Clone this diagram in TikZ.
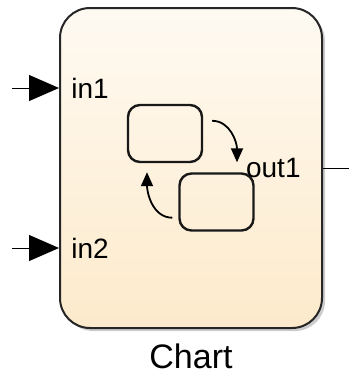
\documentclass[tikz,border=0pt]{standalone}
\usepackage{fontspec}
\setmainfont{Liberation Sans}
\usepackage{xcolor}
\usetikzlibrary{arrows.meta,shadows,positioning}

\definecolor{chartTop}{HTML}{FEFAF2}
\definecolor{chartBottom}{HTML}{FDEACB}

\begin{document}
\begin{tikzpicture}[
    x=0.5pt,y=-0.5pt,
    chartblock/.style={draw=black!85,line width=1pt,rounded corners=15pt,
        minimum width=131pt,minimum height=160pt,inner sep=0pt,
        top color=chartTop,bottom color=chartBottom,
        drop shadow={shadow xshift=1.5pt,shadow yshift=-1.5pt,opacity=0.4}},
    statebox/.style={draw=black!90,line width=1.2pt,rounded corners=6pt,
        minimum width=37pt,minimum height=28.5pt,inner sep=0pt},
    inport/.style={line width=0.5pt,-{Triangle[length=15pt,width=13pt]}},
    outport/.style={line width=0.5pt},
    trans/.style={line width=0.9pt,-{Triangle[length=7pt,width=6pt]}},
    portlabel/.style={font=\fontsize{14}{14}\selectfont,inner sep=0pt},
    every node/.style={font=\fontsize{17}{17}\selectfont}
]
    \useasboundingbox (0,0) rectangle (349,381);

    % The chart block and its two inner states.
    \node[chartblock] (chart) at (191,168) {};
    \node[statebox] (s1) at (165,133.5) {};
    \node[statebox] (s2) at (216.5,202) {};

    % Ports on the block edges.
    \coordinate (in1src) at (12,88);
    \coordinate (in2src) at (12,248);
    \coordinate (out1dst) at (349,168);
    \draw[inport] (in1src) -- (chart.west |- in1src);
    \draw[inport] (in2src) -- (chart.west |- in2src);
    \draw[outport] (chart.east |- out1dst) -- (out1dst);

    \node[portlabel,anchor=west] (in1lbl) at (71,88) {in1};
    \node[portlabel,anchor=west] (in2lbl) at (71,248) {in2};
    \node[portlabel,anchor=east] (out1lbl) at (301,168) {out1};

    % Transitions between the states.
    \draw[trans] ([shift={(9,17)}]s1.north east)
        .. controls +(18,0) and +(0,-20) .. ([shift={(20.5,-10)}]s2.north);
    \draw[trans] ([shift={(-6,-14)}]s2.south west)
        .. controls +(-20,0) and +(0,20) .. ([shift={(-18,9)}]s1.south);

    % Block name below.
    \node[below=4pt of chart] (title) {Chart};
\end{tikzpicture}
\end{document}
